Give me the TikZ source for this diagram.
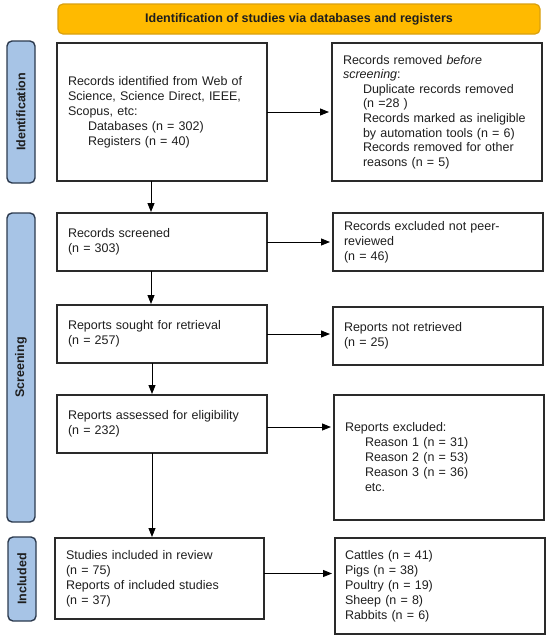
\documentclass[tikz,border=0pt]{standalone}
\usepackage{fontspec}
\setmainfont{Liberation Sans}
\usetikzlibrary{arrows.meta,calc}
\definecolor{boxc}{HTML}{2A2A2A}
\definecolor{txt}{HTML}{1E1E1E}
\definecolor{orangefill}{HTML}{FFBA00}
\definecolor{orangeline}{HTML}{D9A010}
\definecolor{bluefill}{HTML}{A7C4E6}
\definecolor{blueline}{HTML}{2C3A4E}
\tikzset{
  box/.style={draw=boxc, line width=1.3pt, rectangle, inner xsep=11pt, inner ysep=0pt,
    outer sep=0pt, align=left, font=\fontsize{12.5}{15}\selectfont, text=txt, anchor=north west},
  sidelabel/.style={draw=blueline, fill=bluefill, line width=1.4pt, rounded corners=5pt,
    rotate=90, minimum height=28pt, inner sep=0pt, outer sep=0pt,
    font=\fontsize{12.5}{15}\selectfont\bfseries, text=txt, anchor=center},
  titlebar/.style={draw=orangeline, fill=orangefill, line width=1.2pt, rounded corners=5pt,
    minimum width=482pt, minimum height=30pt, inner sep=0pt, outer sep=0pt,
    font=\fontsize{12.5}{15}\selectfont\bfseries, text=txt, anchor=center},
  arr/.style={draw=black, line width=0.9pt, -{Triangle[length=9pt,width=7pt]}},
}
\newcommand{\ind}{\hspace*{20pt}}
\begin{document}
\begin{tikzpicture}[x=1pt,y=-1pt]
\useasboundingbox (0,0) rectangle (550,640);

\node[titlebar] (title) at (299,19) {Identification of studies via databases and registers};

\node[sidelabel, minimum width=142pt] (lid) at (21,112) {Identification};
\node[sidelabel, minimum width=309pt] (lsc) at (21,367.5) {Screening};
\node[sidelabel, minimum width=84pt] (lin) at (22,579) {Included};

\node[box, text width=188pt, minimum height=138pt] (b1) at (57,43)
  {Records identified from Web of\\Science, Science Direct, IEEE,\\Scopus, etc:\\\ind Databases (n = 302)\\\ind Registers (n = 40)};
\node[box, text width=188pt, minimum height=138pt, font=\fontsize{12.5}{14.6}\selectfont] (r1) at (332,43)
  {Records removed \textit{before}\\\textit{screening}:\\\ind Duplicate records removed\\\ind (n =28 )\\\ind Records marked as ineligible\\\ind by automation tools (n = 6)\\\ind Records removed for other\\\ind reasons (n = 5)};

\node[box, text width=188pt, minimum height=58pt] (b2) at (57,213)
  {Records screened\\(n = 303)};
\node[box, text width=188pt, minimum height=58pt] (r2) at (333,213)
  {Records excluded not peer-\\reviewed\\(n = 46)};

\node[box, text width=188pt, minimum height=58pt] (b3) at (57,305)
  {Reports sought for retrieval\\(n = 257)};
\node[box, text width=188pt, minimum height=58pt] (r3) at (333,307)
  {Reports not retrieved\\(n = 25)};

\node[box, text width=188pt, minimum height=58pt] (b4) at (57,395)
  {Reports assessed for eligibility\\(n = 232)};
\node[box, text width=188pt, minimum height=125pt] (r4) at (334,395)
  {Reports excluded:\\\ind Reason 1 (n = 31)\\\ind Reason 2 (n = 53)\\\ind Reason 3 (n = 36)\\\ind etc.};

\node[box, text width=187pt, minimum height=81pt] (b5) at (55,538)
  {Studies included in review\\(n = 75)\\Reports of included studies\\(n = 37)};
\node[box, text width=188pt, minimum height=96pt, inner xsep=10pt, text width=190pt] (r5) at (335,538)
  {Cattles (n = 41)\\Pigs (n = 38)\\Poultry (n = 19)\\Sheep (n = 8)\\Rabbits (n = 6)};

% horizontal connectors
\draw[arr, shorten >=3pt] (b1.east) -- (b1.east -| r1.west);
\draw[arr, shorten >=3pt] (b2.east) -- (b2.east -| r2.west);
\draw[arr, shorten >=3pt] (b3.east) -- (b3.east -| r3.west);
\draw[arr, shorten >=3pt] ([yshift=-3pt]b4.east) -- ([yshift=-3pt]b4.east -| r4.west);
\draw[arr, shorten >=3pt] ([yshift=5pt]b5.east) -- ([yshift=5pt]b5.east -| r5.west);

% vertical connectors
\draw[arr, shorten >=1pt] ([xshift=-11pt]b1.south) -- ([xshift=-11pt]b1.south |- b2.north);
\draw[arr, shorten >=1pt] ([xshift=-11pt]b2.south) -- ([xshift=-11pt]b2.south |- b3.north);
\draw[arr, shorten >=1pt] ([xshift=-10pt]b3.south) -- ([xshift=-10pt]b3.south |- b4.north);
\draw[arr, shorten >=1pt] ([xshift=-10pt]b4.south) -- ([xshift=-10pt]b4.south |- b5.north);
\end{tikzpicture}
\end{document}
